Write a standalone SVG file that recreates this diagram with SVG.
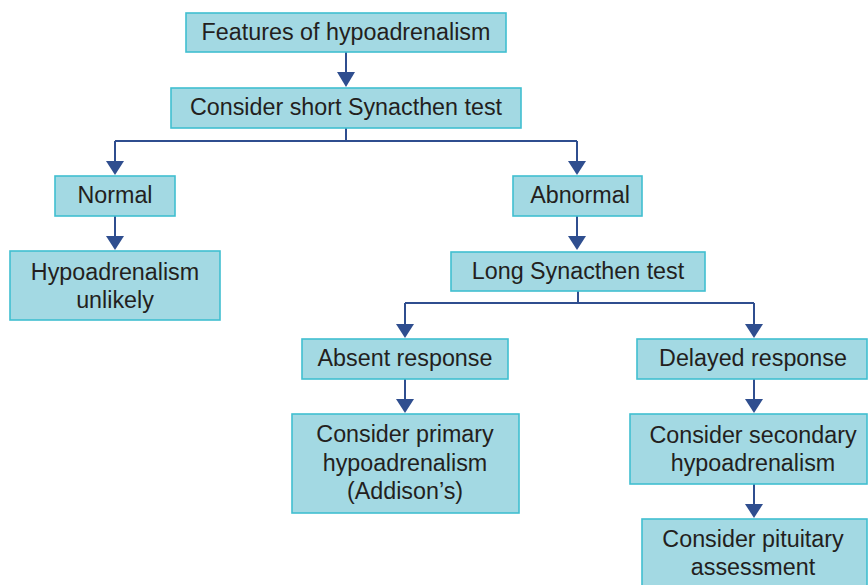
<svg xmlns="http://www.w3.org/2000/svg" width="868" height="585" viewBox="0 0 868 585">
<style>
.box{fill:#a3d9e3;stroke:#40bfd0;stroke-width:1.6}
.t{font-family:"Liberation Sans",Arial,sans-serif;font-size:23.3px;fill:#231f20;text-anchor:middle}
.c{fill:none;stroke:#2f4e8f;stroke-width:2}
.a{fill:#2f4e8f}
</style>
<rect width="868" height="585" fill="#ffffff"/>
<g id="connectors">
<path class="c" d="M346,52 V72"/><path class="a" d="M337,72 H355 L346,87 Z"/>
<path class="c" d="M346,128 V141 M115,141 H577 M115,141 V161 M577,141 V161"/>
<path class="a" d="M106,161 H124 L115,175 Z"/>
<path class="a" d="M568,161 H586 L577,175 Z"/>
<path class="c" d="M115,216 V236"/><path class="a" d="M106,236 H124 L115,250 Z"/>
<path class="c" d="M577,216 V236"/><path class="a" d="M568,236 H586 L577,250 Z"/>
<path class="c" d="M578,291 V303 M405,303 H754 M405,303 V324 M754,303 V324"/>
<path class="a" d="M396,324 H414 L405,338 Z"/>
<path class="a" d="M745,324 H763 L754,338 Z"/>
<path class="c" d="M405,379 V399"/><path class="a" d="M396,399 H414 L405,413 Z"/>
<path class="c" d="M754,379 V399"/><path class="a" d="M745,399 H763 L754,413 Z"/>
<path class="c" d="M754,484 V504"/><path class="a" d="M745,504 H763 L754,518 Z"/>
</g>
<g id="n1"><rect class="box" x="186" y="13" width="320" height="39"/><text class="t" x="346" y="40">Features of hypoadrenalism</text></g>
<g id="n2"><rect class="box" x="171" y="88" width="350" height="40"/><text class="t" x="346" y="115">Consider short Synacthen test</text></g>
<g id="n3"><rect class="box" x="55" y="176" width="120" height="40"/><text class="t" x="115" y="203">Normal</text></g>
<g id="n4"><rect class="box" x="513" y="176" width="129" height="40"/><text class="t" x="580" y="203">Abnormal</text></g>
<g id="n5"><rect class="box" x="10" y="251" width="210" height="69"/><text class="t" x="115" y="280">Hypoadrenalism</text><text class="t" x="115" y="308">unlikely</text></g>
<g id="n6"><rect class="box" x="451" y="252" width="254" height="39"/><text class="t" x="578" y="279">Long Synacthen test</text></g>
<g id="n7"><rect class="box" x="302" y="339" width="206" height="40"/><text class="t" x="405" y="366">Absent response</text></g>
<g id="n8"><rect class="box" x="637" y="339" width="230" height="40"/><text class="t" x="753" y="366">Delayed response</text></g>
<g id="n9"><rect class="box" x="292" y="414" width="227" height="99"/><text class="t" x="405" y="442">Consider primary</text><text class="t" x="405" y="471">hypoadrenalism</text><text class="t" x="405" y="499">(Addison’s)</text></g>
<g id="n10"><rect class="box" x="630" y="414" width="237" height="70"/><text class="t" x="753" y="443">Consider secondary</text><text class="t" x="753" y="471">hypoadrenalism</text></g>
<g id="n11"><rect class="box" x="642" y="519" width="225" height="70"/><text class="t" x="753" y="547">Consider pituitary</text><text class="t" x="753" y="575">assessment</text></g>
</svg>
